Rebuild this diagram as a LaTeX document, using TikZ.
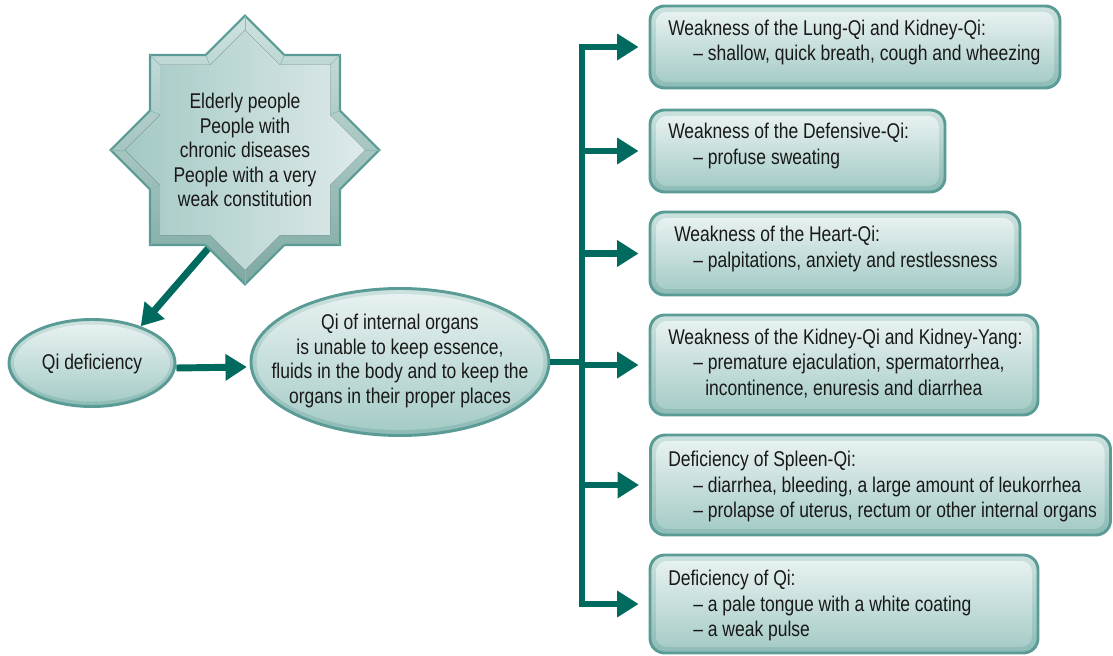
\documentclass[tikz,border=0pt]{standalone}
\usepackage{fontspec}
\setmainfont{Liberation Sans}[FakeStretch=0.82]
\usetikzlibrary{arrows.meta,shapes.geometric}

\definecolor{flow}{RGB}{0,106,94}
\definecolor{edge}{RGB}{90,156,149}
\definecolor{rimtop}{RGB}{205,226,223}
\definecolor{rimbot}{RGB}{140,187,181}
\definecolor{facetop}{RGB}{231,241,241}
\definecolor{facebot}{RGB}{166,204,199}
\definecolor{starleft}{RGB}{163,201,196}
\definecolor{starright}{RGB}{222,234,234}
\definecolor{ink}{RGB}{25,25,25}

\tikzset{
  frame/.style={rectangle, rounded corners=11pt, draw=edge, line width=2.2pt,
    top color=rimtop, bottom color=rimbot, inner sep=0pt},
  face/.style={rectangle, rounded corners=8pt, top color=facetop,
    bottom color=facebot, inner sep=0pt},
  ellframe/.style={ellipse, draw=edge, line width=2.2pt, top color=rimtop,
    bottom color=rimbot, inner sep=0pt},
  ellface/.style={ellipse, top color=facetop, bottom color=facebot, inner sep=0pt},
  txt/.style={text=ink, font=\fontsize{16pt}{19.3pt}\selectfont, inner sep=0pt,
    align=left},
  ctxt/.style={txt, align=center},
  flowline/.style={draw=flow, line width=5.2pt},
  flowarrow/.style={flowline, -{Triangle[length=16pt,width=19pt]}},
  bevel/.style={draw=edge!70, line width=0.5pt},
}

% box with bevelled rim: name, cx, cy, width, height, text x, text y, text
\newcommand\qibox[8]{%
  \node[frame, minimum width=#4*0.75pt, minimum height=#5*0.75pt] (#1) at (#2,#3) {};
  \node[face, minimum width=(#4-12)*0.75pt, minimum height=(#5-12)*0.75pt] at (#1) {};
  \node[txt, anchor=west] at (#6,#7) {#8};
}

\begin{document}
\begin{tikzpicture}[x=0.75pt, y=-0.75pt]
\useasboundingbox (0,0) rectangle (1113,656);

% ellipses
\node[ellframe, minimum width=166*0.75pt, minimum height=87*0.75pt] (qidef) at (92,363) {};
\node[ellface, minimum width=156*0.75pt, minimum height=77*0.75pt] at (qidef) {};
\node[ctxt] at (92,364) {Qi deficiency};

\node[ellframe, minimum width=298*0.75pt, minimum height=147*0.75pt] (organs) at (400,362) {};
\node[ellface, minimum width=287*0.75pt, minimum height=136*0.75pt] at (organs) {};
\node[ctxt, font=\fontsize{16pt}{18.3pt}\selectfont] at (400,361) {Qi of internal organs\\is unable to keep essence,\\fluids in the body and to keep the\\organs in their proper places};

% symptom boxes
\qibox{b1}{855}{47}{410}{82}{668}{42.5}{Weakness of the Lung-Qi and Kidney-Qi:\\\hspace*{18.75pt}– shallow, quick breath, cough and wheezing}
\qibox{b2}{797.5}{151}{295}{82}{668}{146}{Weakness of the Defensive-Qi:\\\hspace*{18.75pt}– profuse sweating}
\qibox{b3}{835}{253.5}{370}{83}{674}{249}{Weakness of the Heart-Qi:\\\hspace*{14.25pt}– palpitations, anxiety and restlessness}
\qibox{b4}{844}{365}{388}{100}{668}{363.5}{Weakness of the Kidney-Qi and Kidney-Yang:\\\hspace*{18.75pt}– premature ejaculation, spermatorrhea,\\\hspace*{27.75pt}incontinence, enuresis and diarrhea}
\qibox{b5}{880.5}{485}{460}{100}{668}{486.5}{Deficiency of Spleen-Qi:\\\hspace*{18.75pt}– diarrhea, bleeding, a large amount of leukorrhea\\\hspace*{18.75pt}– prolapse of uterus, rectum or other internal organs}
\qibox{b6}{844}{604}{388}{98}{668}{605.5}{Deficiency of Qi:\\\hspace*{18.75pt}– a pale tongue with a white coating\\\hspace*{18.75pt}– a weak pulse}

% connectors
\coordinate (starfoot) at (212,244);
\draw[flowarrow] (starfoot) -- (qidef.37);
\draw[flowarrow] ([yshift=-3.75pt]qidef.east) -- ([yshift=-3.75pt,xshift=-2pt]organs.west);

\coordinate (hub) at (582,365);
\draw[flowline] (organs.east) -- (organs.east -| hub);
\draw[flowline, line cap=rect] (b1.west -| hub) -- (b6.west -| hub);
\foreach \b in {b1,b2,b3,b4,b5,b6}
  \draw[flowarrow, shorten >=7.5pt] (\b.west -| hub) -- (\b.west);

% eight-pointed star
\begin{scope}[shift={(245,150)}]
  \begin{scope}[x=71.25pt, y=-71.25pt]
    \draw[draw=edge, line width=1.6pt, top color=rimtop, bottom color=rimbot!90!black]
      (1.4142,0) -- (1,0.4142) -- (1,1) -- (0.4142,1) -- (0,1.4142) -- (-0.4142,1)
      -- (-1,1) -- (-1,0.4142) -- (-1.4142,0) -- (-1,-0.4142) -- (-1,-1)
      -- (-0.4142,-1) -- (0,-1.4142) -- (0.4142,-1) -- (1,-1) -- (1,-0.4142) -- cycle;
  \end{scope}
  \begin{scope}[x=63.75pt, y=-63.75pt]
    \fill[left color=starleft, right color=starright]
      (1.4142,0) -- (1,0.4142) -- (1,1) -- (0.4142,1) -- (0,1.4142) -- (-0.4142,1)
      -- (-1,1) -- (-1,0.4142) -- (-1.4142,0) -- (-1,-0.4142) -- (-1,-1)
      -- (-0.4142,-1) -- (0,-1.4142) -- (0.4142,-1) -- (1,-1) -- (1,-0.4142) -- cycle;
  \end{scope}
  \foreach \a/\c in {1.4142/0, 1/0.4142, 1/1, 0.4142/1, 0/1.4142, -0.4142/1, -1/1,
      -1/0.4142, -1.4142/0, -1/-0.4142, -1/-1, -0.4142/-1, 0/-1.4142, 0.4142/-1,
      1/-1, 1/-0.4142}
    \draw[bevel] (\a*95,\c*95) -- (\a*85,\c*85);
\end{scope}
\node[ctxt, font=\fontsize{16pt}{18.3pt}\selectfont] (star) at (245,150) {Elderly people\\People with\\chronic diseases\\People with a very\\weak constitution};

\end{tikzpicture}
\end{document}
